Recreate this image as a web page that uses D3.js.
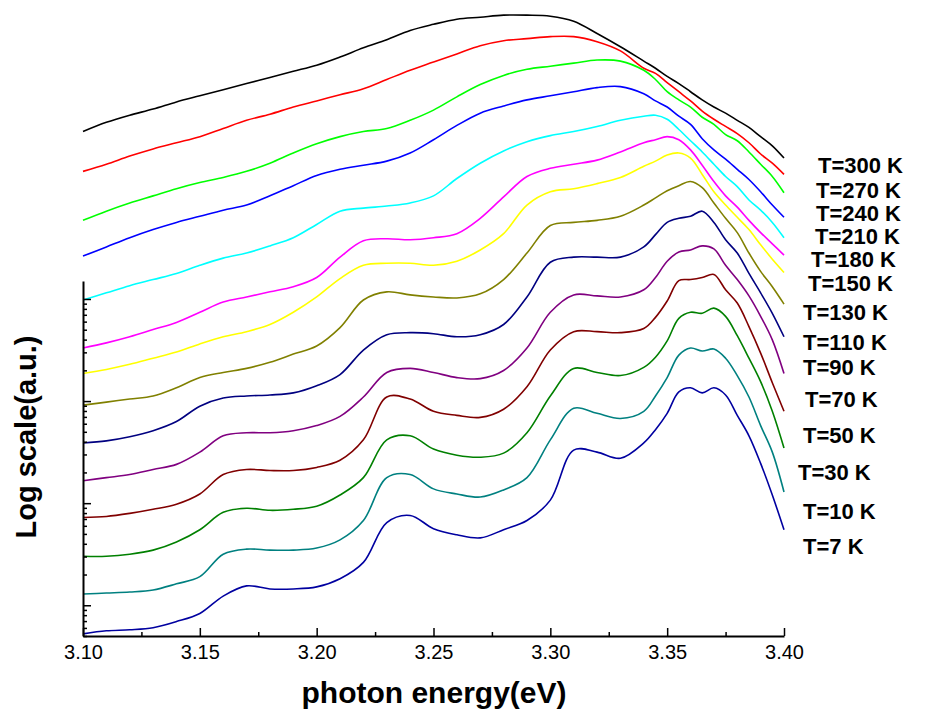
<!DOCTYPE html>
<html>
<head>
<meta charset="utf-8">
<script src="https://cdn.jsdelivr.net/npm/d3@7/dist/d3.min.js"></script>
<style>
  html, body { margin: 0; padding: 0; background: #fff; }
  svg { display: block; }
  text { font-family: "Liberation Sans", Arial, sans-serif; }
</style>
</head>
<body>
<svg id="chart" width="927" height="714"></svg>
<script>
// Photon energy grid (eV); finer steps near the band edge
const energy = [3.10, 3.11, 3.12, 3.13, 3.14, 3.15, 3.16, 3.17, 3.18, 3.19,
                3.20, 3.21, 3.22, 3.23, 3.24, 3.25, 3.26, 3.27, 3.28, 3.29,
                3.30, 3.31, 3.32, 3.33, 3.34, 3.345, 3.35, 3.355, 3.36, 3.365,
                3.37, 3.375, 3.38, 3.385, 3.39, 3.395, 3.40];

// log10 of the (stacked) intensity, one array per temperature
const log300 = [4.64,4.73,4.80,4.86,4.93,4.99,5.05,5.11,5.17,5.23,5.29,5.37,5.46,5.54,5.63,5.69,5.74,5.76,5.78,5.78,5.77,5.72,5.60,5.47,5.33,5.26,5.18,5.11,5.03,4.95,4.88,4.82,4.75,4.68,4.59,4.50,4.38];
const log270 = [4.25,4.32,4.40,4.47,4.53,4.59,4.67,4.75,4.81,4.88,4.94,5.00,5.06,5.15,5.24,5.32,5.40,5.48,5.53,5.55,5.57,5.57,5.52,5.43,5.26,5.21,5.12,5.03,4.94,4.84,4.76,4.69,4.62,4.53,4.42,4.33,4.22];
const log240 = [3.77,3.86,3.94,4.01,4.08,4.14,4.19,4.25,4.33,4.43,4.52,4.59,4.64,4.67,4.75,4.85,4.98,5.10,5.19,5.25,5.28,5.31,5.34,5.33,5.24,5.15,5.03,4.95,4.88,4.78,4.71,4.61,4.55,4.44,4.32,4.20,4.04];
const log210 = [3.42,3.51,3.60,3.68,3.75,3.81,3.87,3.92,4.01,4.11,4.21,4.27,4.31,4.35,4.43,4.56,4.70,4.82,4.89,4.95,4.99,5.03,5.07,5.08,5.01,4.94,4.88,4.79,4.71,4.57,4.46,4.37,4.27,4.17,4.05,3.92,3.80];
const log180 = [2.99,3.06,3.13,3.19,3.25,3.33,3.40,3.45,3.52,3.60,3.73,3.86,3.89,3.91,3.94,4.01,4.18,4.33,4.45,4.54,4.60,4.64,4.69,4.75,4.79,4.80,4.76,4.66,4.55,4.44,4.32,4.20,4.10,3.97,3.87,3.75,3.60];
const log150 = [2.52,2.57,2.63,2.70,2.77,2.87,2.97,3.02,3.07,3.12,3.21,3.41,3.57,3.59,3.58,3.60,3.64,3.79,4.00,4.20,4.28,4.32,4.36,4.44,4.53,4.56,4.59,4.56,4.46,4.31,4.15,4.01,3.90,3.77,3.65,3.54,3.43];
const log130 = [2.27,2.31,2.36,2.42,2.48,2.56,2.63,2.68,2.75,2.87,3.02,3.20,3.33,3.35,3.35,3.33,3.37,3.48,3.64,3.92,4.05,4.08,4.13,4.19,4.30,4.35,4.41,4.43,4.38,4.22,4.05,3.92,3.80,3.68,3.53,3.39,3.26];
const log110 = [1.96,1.99,2.02,2.05,2.13,2.23,2.28,2.32,2.38,2.46,2.54,2.72,2.99,3.07,3.04,3.02,3.01,3.05,3.19,3.45,3.72,3.75,3.77,3.81,3.92,3.99,4.06,4.11,4.15,4.09,3.94,3.79,3.65,3.45,3.27,3.12,2.95];
const log90  = [1.59,1.61,1.65,1.71,1.80,1.95,2.03,2.05,2.06,2.08,2.15,2.26,2.50,2.65,2.67,2.66,2.63,2.65,2.75,3.02,3.36,3.41,3.41,3.41,3.51,3.63,3.75,3.79,3.81,3.86,3.75,3.58,3.45,3.25,3.06,2.86,2.63];
const log70  = [1.22,1.25,1.28,1.33,1.38,1.50,1.66,1.69,1.69,1.71,1.76,1.85,2.04,2.28,2.32,2.28,2.23,2.22,2.30,2.52,2.87,3.04,3.03,3.02,3.09,3.21,3.37,3.46,3.48,3.52,3.49,3.33,3.19,3.03,2.83,2.60,2.27];
const log50  = [0.86,0.87,0.90,0.94,0.99,1.09,1.28,1.33,1.32,1.32,1.35,1.42,1.62,2.04,2.02,1.90,1.86,1.84,1.92,2.14,2.50,2.68,2.68,2.67,2.71,2.82,2.98,3.18,3.19,3.21,3.24,3.09,2.96,2.73,2.47,2.18,1.90];
const log30  = [0.48,0.48,0.50,0.54,0.62,0.74,0.91,0.95,0.93,0.94,0.97,1.08,1.25,1.62,1.66,1.53,1.47,1.45,1.49,1.69,2.05,2.32,2.28,2.25,2.33,2.43,2.59,2.81,2.87,2.86,2.91,2.83,2.64,2.42,2.19,1.90,1.54];
const log10K = [0.11,0.12,0.13,0.15,0.21,0.28,0.50,0.55,0.54,0.54,0.56,0.64,0.83,1.25,1.28,1.14,1.09,1.06,1.13,1.25,1.62,1.93,1.88,1.83,1.90,2.05,2.23,2.45,2.52,2.49,2.51,2.42,2.25,2.04,1.76,1.50,1.11];
const log7K  = [-0.28,-0.25,-0.24,-0.22,-0.16,-0.08,0.09,0.19,0.16,0.16,0.18,0.26,0.42,0.81,0.88,0.75,0.69,0.66,0.74,0.83,1.03,1.52,1.50,1.44,1.59,1.72,1.88,2.09,2.13,2.08,2.13,2.06,1.86,1.66,1.39,1.08,0.74];

const labels = ["T=300 K","T=270 K","T=240 K","T=210 K","T=180 K","T=150 K","T=130 K",
                "T=110 K","T=90 K","T=70 K","T=50 K","T=30 K","T=10 K","T=7 K"];
const spectra = [log300, log270, log240, log210, log180, log150, log130,
                 log110, log90, log70, log50, log30, log10K, log7K];

const xTicks = [3.10, 3.15, 3.20, 3.25, 3.30, 3.35, 3.40];

// Line colours per curve
const colors = ["#000000","#ff0000","#00ff00","#0000ff","#00ffff","#ff00ff","#ffff00",
                "#808000","#000080","#800080","#800000","#008000","#008080","#0000a0"];
// Where each temperature label sits (left x, vertical centre)
const labelPos = [[818,165],[816,190],[816,213],[815,236],[811,259],[808,283],[803,312],
                  [803,342],[803,367],[805,399],[803,435],[798,472],[803,511],[803,546]];

const svg = d3.select("#chart");

const x = d3.scaleLinear().domain([3.10, 3.40]).range([83, 784]);
const y = d3.scaleLog().domain([0.5, 1500]).range([636, 281]);

// Spectra
const line = d3.line()
  .x((d, i) => x(energy[i]))
  .y(d => y(Math.pow(10, d)))
  .curve(d3.curveCatmullRom.alpha(0.5));

svg.append("g")
  .selectAll("path")
  .data(spectra)
  .join("path")
  .attr("d", d => line(d))
  .attr("fill", "none")
  .attr("stroke", (d, i) => colors[i])
  .attr("stroke-width", 1.6)
  .attr("stroke-linejoin", "round");

// Bottom axis: major ticks every 0.05 eV, minor in between, ticks pointing inward
const xAxisG = svg.append("g").attr("transform", "translate(0,636)");
xAxisG.call(d3.axisBottom(x).tickValues(xTicks).tickFormat(d3.format(".2f"))
  .tickSizeInner(-8).tickSizeOuter(0).tickPadding(9));
xAxisG.append("g").call(d3.axisBottom(x)
  .tickValues(xTicks.slice(0, -1).map(v => v + 0.025))
  .tickFormat("").tickSizeInner(-4).tickSizeOuter(0))
  .select(".domain").remove();
xAxisG.selectAll("text").attr("font-size", 20).attr("fill", "#000")
  .attr("font-family", "'Liberation Sans', Arial, sans-serif");
xAxisG.selectAll("path.domain").attr("stroke-width", 2);
xAxisG.selectAll("line").attr("stroke-width", 1.5);

// Left log axis: decade ticks long, 2..9 minor ticks short, no labels
const yMajor = [1, 10, 100, 1000];
const yMinor = [];
[0.1, 1, 10, 100].forEach(dec => {
  for (let k = 2; k <= 9; k++) {
    const v = dec * k;
    if (v >= 0.5 && v <= 1500) yMinor.push(v);
  }
});
const yAxisG = svg.append("g").attr("transform", "translate(83,0)");
yAxisG.call(d3.axisLeft(y).tickValues(yMajor).tickFormat("")
  .tickSizeInner(-8).tickSizeOuter(0));
yAxisG.append("g").call(d3.axisLeft(y).tickValues(yMinor).tickFormat("")
  .tickSizeInner(-4).tickSizeOuter(0))
  .select(".domain").remove();
yAxisG.selectAll("path.domain").attr("stroke-width", 2);
yAxisG.selectAll("line").attr("stroke-width", 1.5);

// Temperature labels
svg.append("g")
  .selectAll("text")
  .data(labels)
  .join("text")
  .attr("x", (d, i) => labelPos[i][0])
  .attr("y", (d, i) => labelPos[i][1])
  .attr("dy", "0.36em")
  .attr("font-size", 22)
  .attr("font-weight", "bold")
  .text(d => d);

// Axis titles
svg.append("text")
  .attr("x", 434).attr("y", 703)
  .attr("text-anchor", "middle")
  .attr("font-size", 30)
  .attr("font-weight", "bold")
  .text("photon energy(eV)");

svg.append("text")
  .attr("transform", "translate(36,437) rotate(-90)")
  .attr("text-anchor", "middle")
  .attr("font-size", 29)
  .attr("font-weight", "bold")
  .text("Log scale(a.u.)");
</script>
</body>
</html>
